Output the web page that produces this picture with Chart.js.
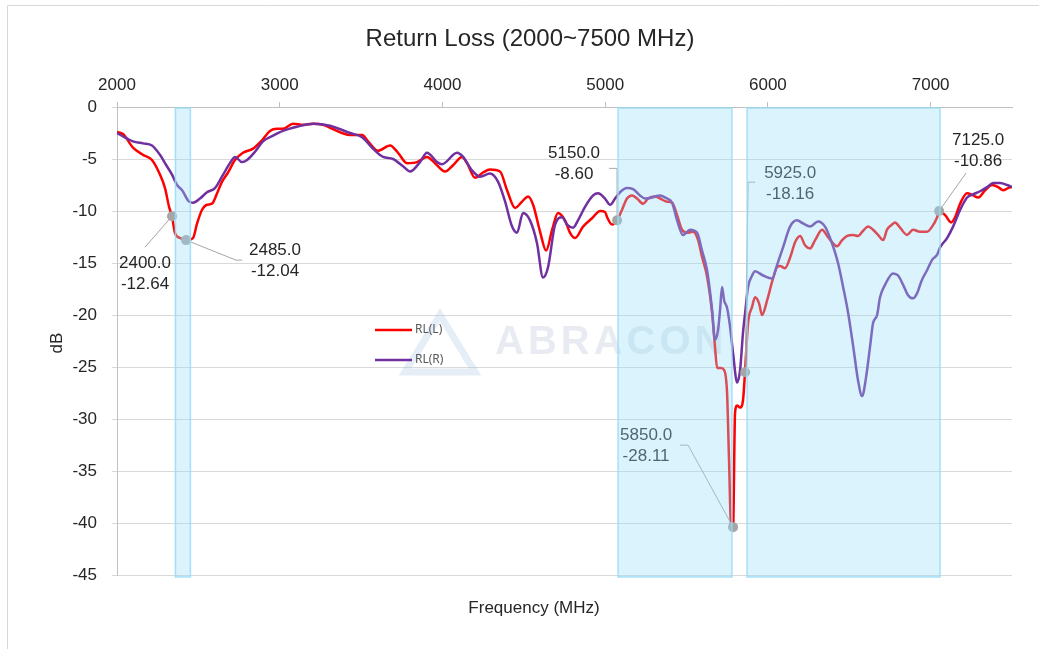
<!DOCTYPE html>
<html>
<head>
<meta charset="utf-8">
<title>Return Loss</title>
<script src="https://cdn.jsdelivr.net/npm/chart.js@4.4.1/dist/chart.umd.min.js"></script>
<style>
  html, body { margin: 0; padding: 0; background: #fff; }
  #wrap { width: 1039px; height: 649px; position: relative; }
</style>
</head>
<body>
<div id="wrap"><canvas id="rlChart"></canvas></div>
<script>
// --- DATOS ---
const chartTitle = 'Return Loss (2000~7500 MHz)';
const xTitle = 'Frequency (MHz)';
const yTitle = 'dB';
const watermarkText = 'ABRACON';
const seriesNames = ['RL(L)', 'RL(R)'];
const xTicks = [2000, 3000, 4000, 5000, 6000, 7000];
const yTicks = [0, -5, -10, -15, -20, -25, -30, -35, -40, -45];

// RL(L)
const freqL = [2000, 2037, 2098, 2160, 2215, 2264, 2295, 2320, 2338, 2356, 2387, 2430, 2467, 2492, 2522, 2553, 2584, 2615, 2645, 2682,
  2725, 2774, 2836, 2891, 2940, 2983, 3020, 3082, 3143, 3205, 3266, 3309, 3432, 3506, 3543, 3604, 3678, 3727, 3782, 3844,
  3905, 3954, 4016, 4065, 4120, 4151, 4200, 4249, 4292, 4354, 4397, 4446, 4489, 4526, 4557, 4600, 4637, 4674, 4710, 4753,
  4784, 4815, 4864, 4919, 4969, 4999, 5012, 5042, 5073, 5103, 5134, 5165, 5196, 5233, 5264, 5307, 5337, 5380, 5411, 5442,
  5472, 5503, 5540, 5571, 5595, 5626, 5657, 5675, 5688, 5712, 5731, 5749, 5761, 5774, 5786, 5798, 5811, 5829, 5847, 5860,
  5878, 5903, 5921, 5946, 5964, 5995, 6026, 6056, 6075, 6105, 6136, 6167, 6198, 6228, 6259, 6290, 6333, 6364, 6394, 6425,
  6456, 6487, 6524, 6554, 6585, 6616, 6646, 6677, 6708, 6732, 6763, 6781, 6812, 6855, 6892, 6935, 6978, 7009, 7040, 7052,
  7089, 7126, 7150, 7181, 7224, 7261, 7292, 7335, 7378, 7415, 7445, 7476, 7500];
const rlL = [-2.4, -2.6, -3.9, -4.6, -5.1, -6.5, -7.8, -9.6, -10.5, -12.1, -12.6, -12.8, -12.6, -11.2, -9.9, -9.4, -9.3, -8.3, -7.2, -6.3,
  -5.1, -4.4, -4.0, -3.2, -2.3, -2.1, -2.1, -1.6, -1.7, -1.6, -1.7, -2.0, -2.7, -2.7, -3.3, -4.2, -3.7, -4.4, -5.4, -5.3,
  -4.8, -5.4, -6.2, -5.6, -4.8, -5.4, -6.8, -6.3, -6.0, -6.2, -8.0, -9.7, -9.1, -8.6, -9.4, -12.0, -13.8, -11.8, -10.2, -10.9,
  -12.1, -12.6, -11.5, -10.7, -10.0, -10.1, -10.6, -11.3, -10.9, -9.9, -8.8, -8.5, -8.8, -9.3, -8.8, -8.6, -8.8, -9.1, -9.2, -10.4,
  -11.8, -12.1, -12.0, -12.8, -14.4, -16.3, -19.8, -23.1, -25.1, -25.1, -25.3, -27.5, -33.9, -40.4, -40.4, -29.4, -28.7, -28.9, -28.2, -25.3,
  -20.8, -19.2, -18.3, -18.9, -20.0, -18.6, -16.8, -15.4, -15.3, -15.5, -14.5, -13.0, -12.4, -13.3, -13.6, -12.8, -11.8, -12.4, -13.0, -13.4,
  -12.8, -12.4, -12.3, -12.4, -11.9, -11.5, -11.8, -12.3, -12.8, -11.8, -11.3, -11.1, -11.6, -12.3, -11.8, -12.0, -12.0, -11.5, -10.6, -10.0,
  -10.4, -11.1, -10.6, -9.3, -8.3, -8.5, -8.7, -8.0, -7.5, -7.7, -8.0, -7.8, -7.7];

// RL(R)
const freqR = [2000, 2098, 2160, 2215, 2264, 2295, 2338, 2369, 2400, 2443, 2467, 2510, 2553, 2602, 2645, 2694, 2725, 2768, 2799, 2848,
  2897, 2953, 3020, 3106, 3205, 3309, 3432, 3506, 3573, 3635, 3696, 3758, 3801, 3862, 3905, 3967, 3997, 4090, 4127, 4182,
  4231, 4292, 4342, 4385, 4428, 4458, 4495, 4538, 4581, 4618, 4649, 4692, 4735, 4766, 4803, 4833, 4876, 4926, 4956, 4999,
  5030, 5061, 5091, 5134, 5171, 5214, 5245, 5288, 5337, 5380, 5411, 5442, 5478, 5522, 5565, 5595, 5626, 5657, 5675, 5694,
  5706, 5718, 5731, 5749, 5768, 5786, 5811, 5829, 5847, 5860, 5878, 5903, 5921, 5970, 6026, 6056, 6093, 6136, 6179, 6216,
  6259, 6308, 6351, 6394, 6431, 6462, 6493, 6524, 6554, 6579, 6603, 6628, 6646, 6671, 6689, 6720, 6769, 6800, 6831, 6861,
  6892, 6917, 6947, 6978, 7009, 7040, 7058, 7101, 7138, 7181, 7224, 7261, 7304, 7347, 7384, 7427, 7470, 7500];
const rlR = [-2.5, -3.3, -3.5, -3.7, -4.6, -5.4, -6.5, -7.5, -8.0, -9.1, -9.2, -8.8, -8.2, -7.8, -6.7, -5.4, -4.8, -5.3, -5.1, -4.3,
  -3.3, -2.8, -2.3, -1.9, -1.6, -1.8, -2.5, -2.9, -4.0, -4.8, -5.0, -5.7, -6.2, -5.3, -4.4, -5.3, -5.5, -4.4, -4.8, -6.1,
  -6.7, -6.4, -7.2, -9.1, -11.5, -12.1, -10.2, -10.9, -13.1, -16.4, -15.4, -11.3, -10.6, -11.3, -11.6, -10.9, -9.6, -8.5, -8.3, -8.8,
  -9.4, -8.8, -8.2, -7.8, -7.9, -8.5, -8.8, -8.7, -8.5, -8.8, -9.2, -10.9, -12.3, -11.8, -12.1, -13.8, -15.7, -19.5, -22.4, -21.4,
  -19.5, -17.3, -18.6, -19.3, -21.2, -23.7, -26.5, -25.3, -21.7, -19.8, -17.3, -16.2, -15.8, -16.2, -16.5, -15.2, -13.5, -11.5, -10.9, -11.2,
  -11.5, -11.0, -11.5, -13.1, -15.0, -17.3, -19.8, -23.0, -26.3, -27.8, -26.0, -23.0, -20.8, -20.0, -18.3, -17.1, -16.0, -16.2, -17.1, -18.1,
  -18.4, -17.9, -16.6, -15.7, -14.7, -14.2, -13.5, -12.6, -11.5, -9.9, -8.7, -8.4, -8.1, -7.7, -7.3, -7.3, -7.5, -7.7];

// bandas sombreadas (MHz)
const bandStart = [2359, 5079, 5872];
const bandEnd = [2451, 5779, 7058];

// marcadores con sus etiquetas
const markFreq = [2338, 2424, 5073, 5860, 5786, 7052];
const markDb = [-10.5, -12.8, -10.9, -25.5, -40.4, -10.0];
const markText = [['2400.0', '-12.64'], ['2485.0', '-12.04'], ['5150.0', '-8.60'],
  ['5925.0', '-18.16'], ['5850.0', '-28.11'], ['7125.0', '-10.86']];

// --- ESTILO / POSICIONES DE LAS LLAMADAS (px respecto al marcador) ---
const calloutLayout = [
  { path: [[0, 0], [-27, 31]], text: [-27, 47] },
  { path: [[0, 0], [50, 20], [56, 20]], text: [89, 10] },
  { path: [[0, 0], [0, -52], [-8, -52]], text: [-43, -67] },
  { path: [[0, 0], [3, -190], [10, -190]], text: [45, -199] },
  { path: [[0, 0], [-45, -82], [-53, -82]], text: [-87, -92] },
  { path: [[0, 0], [27, -38]], text: [39, -71] }
];

const FONT = '"Liberation Sans", Arial, sans-serif';
const colors = ['#ff0000', '#7030a0'];

const toPts = (xs, ys) => xs.map((x, i) => ({ x: x, y: ys[i] }));

// --- PLUGIN: marco, título, textos de ejes, marca de agua ---
const decorPlugin = {
    id: 'decor',
    beforeDraw(chart) {
        const ctx = chart.ctx;
        ctx.save();
        ctx.fillStyle = '#fff';
        ctx.fillRect(0, 0, chart.width, chart.height);
        ctx.strokeStyle = '#d9d9d9';
        ctx.lineWidth = 1;
        ctx.beginPath();
        ctx.moveTo(7.5, chart.height);
        ctx.lineTo(7.5, 5.5);
        ctx.lineTo(chart.width, 5.5);
        ctx.stroke();

        ctx.fillStyle = '#262626';
        ctx.textAlign = 'center';
        ctx.textBaseline = 'middle';
        ctx.font = '24px ' + FONT;
        ctx.fillText(chartTitle, 530, 39);
        ctx.font = '17px ' + FONT;
        ctx.fillText(xTitle, 534, 608);
        ctx.translate(57, (chart.chartArea.top + chart.chartArea.bottom) / 2 + 2);
        ctx.rotate(-Math.PI / 2);
        ctx.fillText(yTitle, 0, 0);
        ctx.restore();
    },
    beforeDatasetsDraw(chart) {
        const ctx = chart.ctx;
        const a = chart.chartArea;
        const cx = a.left + 323, cy = a.top + 234;
        ctx.save();
        // logo triangular
        ctx.strokeStyle = 'rgba(170, 195, 230, 0.3)';
        ctx.lineWidth = 7;
        ctx.lineJoin = 'miter';
        ctx.beginPath();
        ctx.moveTo(cx, cy - 26);
        ctx.lineTo(cx + 35, cy + 31);
        ctx.lineTo(cx - 35, cy + 31);
        ctx.closePath();
        ctx.stroke();
        ctx.fillStyle = 'rgba(180, 190, 210, 0.3)';
        ctx.font = 'bold 40px ' + FONT;
        ctx.letterSpacing = '4px';
        ctx.textAlign = 'left';
        ctx.textBaseline = 'middle';
        ctx.fillText(watermarkText, a.left + 378, cy + 2);
        ctx.restore();
    },
    afterDatasetsDraw(chart) {
        const ctx = chart.ctx;
        const xs = chart.scales.x, ys = chart.scales.y;
        ctx.save();
        // llamadas
        markFreq.forEach((f, i) => {
            const mx = xs.getPixelForValue(f), my = ys.getPixelForValue(markDb[i]);
            const lay = calloutLayout[i];
            ctx.strokeStyle = '#a6a6a6';
            ctx.lineWidth = 1;
            ctx.beginPath();
            lay.path.forEach((p, k) => {
                if (k === 0) ctx.moveTo(mx + p[0], my + p[1]);
                else ctx.lineTo(mx + p[0], my + p[1]);
            });
            ctx.stroke();
            ctx.fillStyle = '#a6a6a6';
            ctx.beginPath();
            ctx.arc(mx, my, 5, 0, Math.PI * 2);
            ctx.fill();
            ctx.fillStyle = '#262626';
            ctx.font = '17px ' + FONT;
            ctx.textAlign = 'center';
            ctx.textBaseline = 'middle';
            ctx.fillText(markText[i][0], mx + lay.text[0], my + lay.text[1]);
            ctx.fillText(markText[i][1], mx + lay.text[0], my + lay.text[1] + 21);
        });
        // bandas encima de las curvas
        const yTop = ys.getPixelForValue(0) + 1;
        const yBot = ys.getPixelForValue(-45) + 2;
        bandStart.forEach((b, i) => {
            const x1 = xs.getPixelForValue(b), x2 = xs.getPixelForValue(bandEnd[i]);
            ctx.fillStyle = 'rgba(150, 222, 245, 0.35)';
            ctx.fillRect(x1, yTop, x2 - x1, yBot - yTop);
            ctx.strokeStyle = 'rgba(150, 220, 245, 0.85)';
            ctx.lineWidth = 1.5;
            ctx.strokeRect(x1, yTop, x2 - x1, yBot - yTop);
        });
        // leyenda
        const lx = chart.chartArea.left + 258;
        seriesNames.forEach((name, i) => {
            const ly = chart.chartArea.top + 223 + i * 30;
            ctx.strokeStyle = colors[i];
            ctx.lineWidth = 2.5;
            ctx.beginPath();
            ctx.moveTo(lx, ly);
            ctx.lineTo(lx + 37, ly);
            ctx.stroke();
            ctx.fillStyle = '#595959';
            ctx.font = '12px "Noto Sans", sans-serif';
            ctx.textAlign = 'left';
            ctx.textBaseline = 'middle';
            ctx.fillText(name, lx + 40, ly);
        });
        ctx.restore();
    }
};

// --- GRÁFICO ---
new Chart(document.getElementById('rlChart'), {
    type: 'line',
    data: {
        datasets: [
            { label: seriesNames[0], data: toPts(freqL, rlL), borderColor: colors[0], borderWidth: 2.5,
              pointRadius: 0, fill: false, cubicInterpolationMode: 'monotone', order: 2 },
            { label: seriesNames[1], data: toPts(freqR, rlR), borderColor: colors[1], borderWidth: 2.5,
              pointRadius: 0, fill: false, cubicInterpolationMode: 'monotone', order: 1 }
        ]
    },
    options: {
        responsive: true,
        maintainAspectRatio: false,
        animation: false,
        layout: { padding: { left: 0, top: 0, right: 27, bottom: 74 } },
        plugins: { legend: { display: false }, title: { display: false }, tooltip: { enabled: false } },
        scales: {
            x: {
                type: 'linear', position: 'top', min: 2000, max: 7500,
                afterBuildTicks: s => { s.ticks = xTicks.map(v => ({ value: v })); },
                afterFit: s => { s.height = 107; },
                grid: { drawOnChartArea: false, drawTicks: true, tickLength: 5, color: '#bfbfbf' },
                border: { display: true, color: '#bfbfbf' },
                ticks: { color: '#262626', font: { family: FONT, size: 17 }, padding: 6, maxRotation: 0,
                         callback: v => String(v) }
            },
            y: {
                type: 'linear', min: -45, max: 0,
                afterBuildTicks: s => { s.ticks = yTicks.map(v => ({ value: v })); },
                afterFit: s => { s.width = 117; },
                grid: { color: '#d9d9d9', tickLength: 5 },
                border: { display: true, color: '#bfbfbf' },
                ticks: { color: '#262626', font: { family: FONT, size: 17 }, padding: 15,
                         callback: v => String(v) }
            }
        }
    },
    plugins: [decorPlugin]
});
</script>
</body>
</html>
